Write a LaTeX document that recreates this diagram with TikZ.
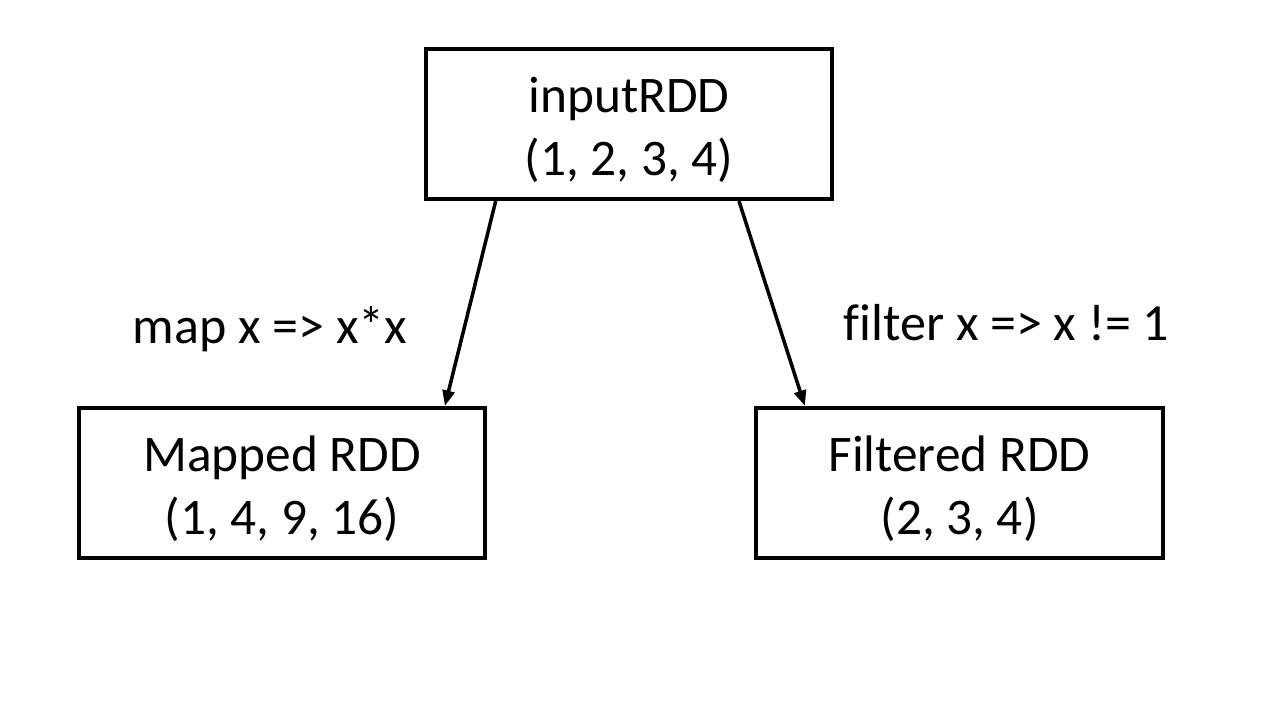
\documentclass[tikz,border=0pt]{standalone}
\usepackage{fontspec}
\setmainfont{Carlito}[Ligatures=NoCommon]
\usetikzlibrary{calc,arrows.meta}
\newcommand{\topstrut}{\rule{0pt}{15.4pt}}
\newcommand{\botstrut}{\rule[-4.2pt]{0pt}{4.2pt}}
\begin{document}
\begin{tikzpicture}[x=0.01cm,y=-0.01cm,
  rddtext/.style={align=center,inner sep=0pt,font=\fontsize{14.6}{17.8}\selectfont},
  rddbox/.style={draw=black,line width=1.15pt,minimum width=4.06cm,minimum height=1.50cm,
    inner sep=0pt,label={[rddtext]center:#1}},
  oplabel/.style={anchor=base,inner sep=0pt,font=\fontsize{14.8}{17.6}\selectfont},
  conn/.style={line width=1pt,-{Triangle[length=4.4pt,width=3.4pt]}}]
\useasboundingbox (0,0) rectangle (1280,720);
\fill[white] (0,0) rectangle (1280,720);
\node[rddbox={\topstrut inputRDD\\(1, 2, 3, 4)\botstrut}] (in) at (629,124) {};
\node[rddbox={\topstrut Mapped RDD\\(1, 4, 9, 16)\botstrut}] (map) at (282,483) {};
\node[rddbox={\topstrut Filtered RDD\\(2, 3, 4)\botstrut}] (flt) at (959.5,483) {};
\node[oplabel] (lmap) at (270,343) {map x => x*x};
\node[oplabel] (lflt) at (1006.5,340) {filter x => x != 1};
\draw[conn] ($(in.south west)!0.175!(in.south east)$) -- ($(map.north west)!0.897!(map.north east)$);
\draw[conn] ($(in.south west)!0.768!(in.south east)$) -- ($(flt.north west)!0.123!(flt.north east)$);
\end{tikzpicture}
\end{document}
